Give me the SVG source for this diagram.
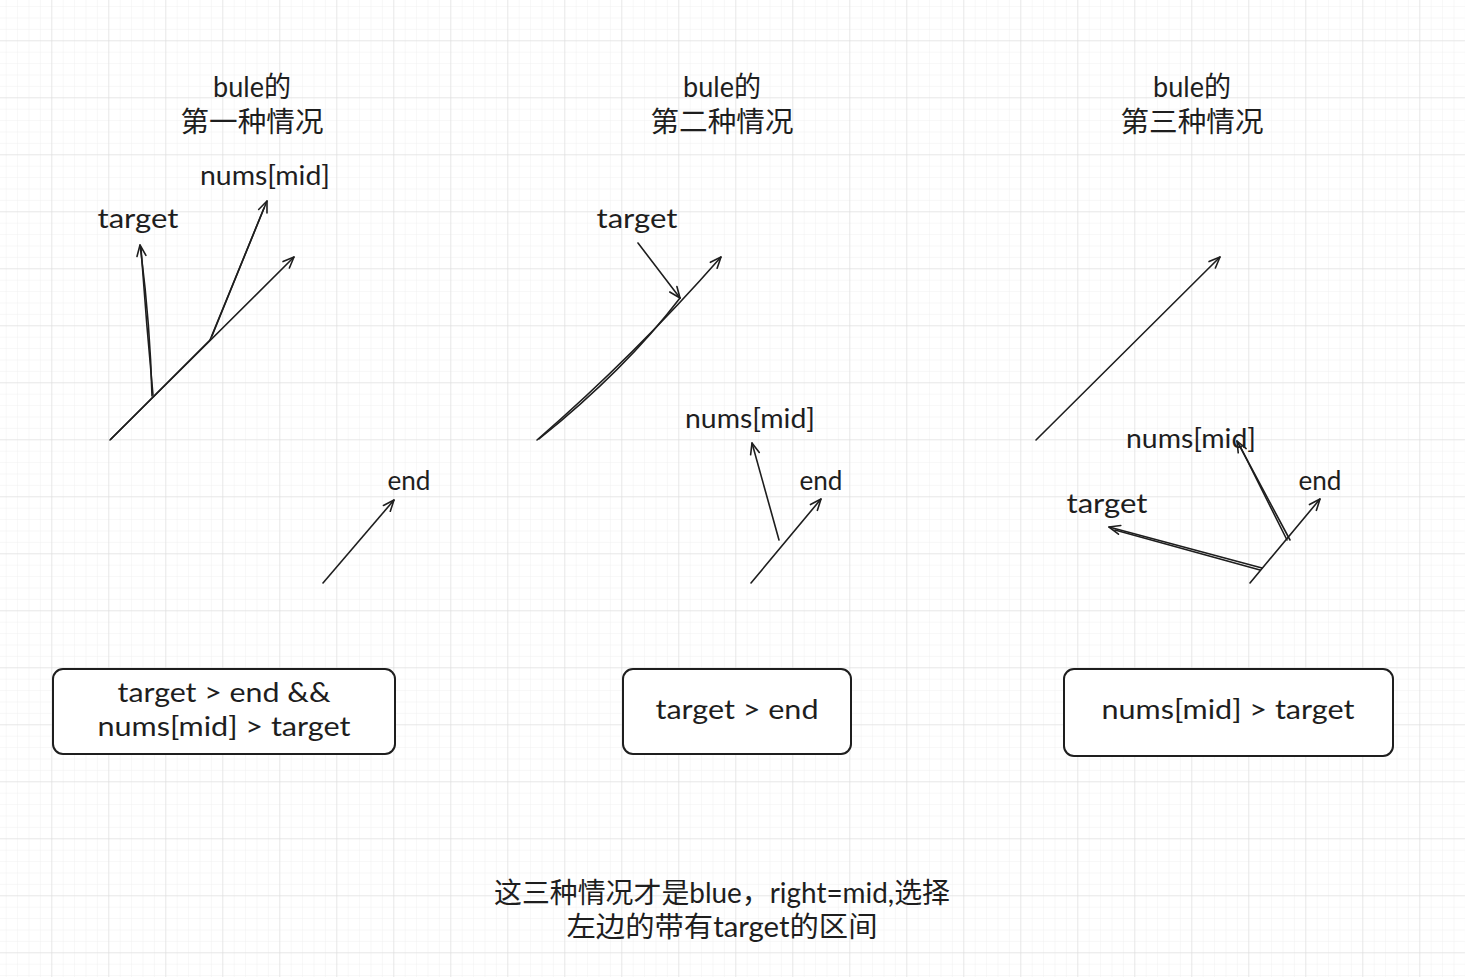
<svg xmlns="http://www.w3.org/2000/svg" width="1465" height="977" viewBox="0 0 1465 977">
<defs>
<pattern id="minor" x="-5.7" y="40.3" width="11.4" height="11.4" patternUnits="userSpaceOnUse">
<path d="M0,0 H11.4 M0,0 V11.4" fill="none" stroke="#f0f0f0" stroke-width="1"/>
</pattern>
<pattern id="major" x="-5.7" y="40.3" width="57" height="57" patternUnits="userSpaceOnUse">
<path d="M0,0 H57 M0,0 V57" fill="none" stroke="#d9d9d9" stroke-width="1"/>
</pattern>
<marker id="ah" viewBox="-14 -8 16 16" markerWidth="16" markerHeight="16" refX="0" refY="0" orient="auto" markerUnits="userSpaceOnUse">
<path d="M-11,-4.5 L0,0 L-11,4.5" fill="none" stroke="#1e1e1e" stroke-width="1.6" stroke-linecap="round" stroke-linejoin="round"/>
</marker>
<style>
.t{font-family:"Lato","Noto Sans CJK SC",sans-serif;font-size:26px;fill:#1e1e1e;text-anchor:middle}
.c{font-family:"Lato","Noto Sans CJK SC",sans-serif;font-size:28px;fill:#1e1e1e;text-anchor:middle}
.l{fill:none;stroke:#1e1e1e;stroke-width:1.6;stroke-linecap:round}
.a{fill:none;stroke:#1e1e1e;stroke-width:1.6;stroke-linecap:round;marker-end:url(#ah)}
.b{fill:#ffffff;stroke:#1e1e1e;stroke-width:2}
</style>
</defs>
<rect width="1465" height="977" fill="#ffffff"/>
<rect width="1465" height="977" fill="url(#minor)"/>
<rect width="1465" height="977" fill="url(#major)"/>

<g id="title1"><text class="c" x="252" y="97" textLength="78" lengthAdjust="spacingAndGlyphs">bule的</text><text class="c" x="252" y="132" textLength="143" lengthAdjust="spacingAndGlyphs">第一种情况</text></g>
<g id="title2"><text class="c" x="722" y="97" textLength="78" lengthAdjust="spacingAndGlyphs">bule的</text><text class="c" x="722" y="132" textLength="143" lengthAdjust="spacingAndGlyphs">第二种情况</text></g>
<g id="title3"><text class="c" x="1192" y="97" textLength="78" lengthAdjust="spacingAndGlyphs">bule的</text><text class="c" x="1192" y="132" textLength="143" lengthAdjust="spacingAndGlyphs">第三种情况</text></g>

<g id="labels">
<text class="t" x="138" y="228" textLength="81" lengthAdjust="spacingAndGlyphs">target</text>
<text class="t" x="265" y="185" textLength="130" lengthAdjust="spacingAndGlyphs">nums[mid]</text>
<text class="t" x="409" y="490" textLength="43" lengthAdjust="spacingAndGlyphs">end</text>
<text class="t" x="637" y="228" textLength="81" lengthAdjust="spacingAndGlyphs">target</text>
<text class="t" x="750" y="428" textLength="130" lengthAdjust="spacingAndGlyphs">nums[mid]</text>
<text class="t" x="821" y="490" textLength="43" lengthAdjust="spacingAndGlyphs">end</text>
<text class="t" x="1191" y="448" textLength="130" lengthAdjust="spacingAndGlyphs">nums[mid]</text>
<text class="t" x="1320" y="490" textLength="43" lengthAdjust="spacingAndGlyphs">end</text>
<text class="t" x="1107" y="513" textLength="81" lengthAdjust="spacingAndGlyphs">target</text>
</g>

<g id="connectors">
<path class="a" d="M110,440 L294,257"/>
<path class="l" d="M111,439 L210,340"/>
<path class="a" d="M152,396 Q150,320 140,245"/>
<path class="l" d="M153,395 Q146,320 141,248"/>
<path class="a" d="M210,340 L267,201"/>
<path class="l" d="M212,336 L264,208"/>
<path class="a" d="M323,583 Q360,540 394,500"/>

<path class="a" d="M537,440 Q635,355 721,257"/>
<path class="l" d="M539,439 Q625,370 680,298"/>
<path class="a" d="M638,243 L680,298"/>
<path class="a" d="M779,540 L752,443"/>
<path class="a" d="M751,583 L821,499"/>

<path class="a" d="M1036,440 L1220,257"/>
<path class="a" d="M1290,540 L1237,441"/>
<path class="l" d="M1287,540 L1240,446"/>
<path class="a" d="M1250,583 L1320,499"/>
<path class="a" d="M1262,568 L1109,527"/>
<path class="l" d="M1260,570 L1115,530"/>
</g>

<g id="box1"><rect class="b" x="53" y="669" width="342" height="85" rx="10"/><text class="t" x="224" y="702" textLength="213" lengthAdjust="spacingAndGlyphs">target &gt; end &amp;&amp;</text><text class="t" x="224" y="736" textLength="253" lengthAdjust="spacingAndGlyphs">nums[mid] &gt; target</text></g>
<g id="box2"><rect class="b" x="623" y="669" width="228" height="85" rx="10"/><text class="t" x="737" y="719" textLength="163" lengthAdjust="spacingAndGlyphs">target &gt; end</text></g>
<g id="box3"><rect class="b" x="1064" y="669" width="329" height="87" rx="10"/><text class="t" x="1228" y="719" textLength="253" lengthAdjust="spacingAndGlyphs">nums[mid] &gt; target</text></g>

<g id="note"><text class="c" x="722" y="903" textLength="456" lengthAdjust="spacingAndGlyphs">这三种情况才是blue，right=mid,选择</text><text class="c" x="722" y="937" textLength="311" lengthAdjust="spacingAndGlyphs">左边的带有target的区间</text></g>
</svg>
